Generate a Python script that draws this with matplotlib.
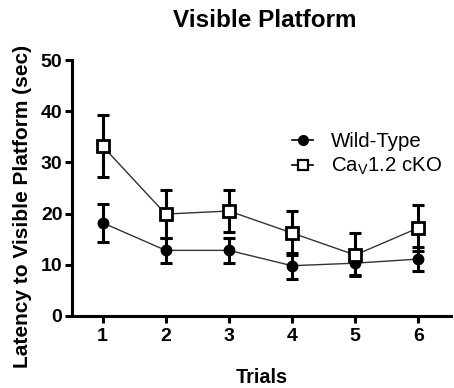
import matplotlib
matplotlib.use("Agg")
import matplotlib.pyplot as plt

plt.rcParams['font.family'] = ['Liberation Sans', 'DejaVu Sans']
plt.rcParams['mathtext.fontset'] = 'custom'
plt.rcParams['mathtext.rm'] = 'Liberation Sans'

trials = [1, 2, 3, 4, 5, 6]
wt_mean = [18.2, 12.8, 12.8, 9.8, 10.3, 11.1]
wt_err = [3.7, 2.4, 2.5, 2.5, 2.3, 2.3]
ko_mean = [33.2, 19.9, 20.5, 16.2, 11.9, 17.2]
ko_err = [6.1, 4.7, 4.2, 4.3, 4.2, 4.5]
yticks = [0, 10, 20, 30, 40, 50]

fig = plt.figure(figsize=(4.54, 3.88), dpi=100)
ax = fig.add_axes([0.159, 0.186, 0.835, 0.659])

ax.errorbar(trials, ko_mean, yerr=ko_err, fmt='none', ecolor='black',
            elinewidth=2.2, capsize=4.3, capthick=2.2, zorder=2)
ax.errorbar(trials, wt_mean, yerr=wt_err, fmt='none', ecolor='black',
            elinewidth=2.2, capsize=4.3, capthick=2.2, zorder=2)
ax.plot(trials, wt_mean, color='#333333', lw=1.0, zorder=3)
ax.plot(trials, ko_mean, color='#333333', lw=1.0, zorder=3)
ax.plot(trials, wt_mean, 'o', color='black', ms=7.5, zorder=4)
ax.plot(trials, ko_mean, 's', mfc='white', mec='black', mew=2, ms=8, zorder=4)

h1, = ax.plot([], [], '-o', color='black', ms=7, lw=1.2)
h2, = ax.plot([], [], '-s', color='black', mfc='white', mew=1.6, ms=7, lw=1.2)
leg = ax.legend([h1, h2], ['Wild-Type', r'Ca$_{\mathregular{V}}$1.2 cKO'],
                loc='center left', bbox_to_anchor=(0.58, 0.63), frameon=False,
                fontsize=14.7, handlelength=1.05, handletextpad=0.85,
                labelspacing=0.25, borderaxespad=0, borderpad=0)

ax.set_xlim(0.52, 6.52)
ax.set_ylim(0, 50)
ax.set_yticks(yticks)
ax.set_xticks(trials)
for s in ['top', 'right']:
    ax.spines[s].set_visible(False)
for s in ['left', 'bottom']:
    ax.spines[s].set_linewidth(2.2)
ax.tick_params(width=2.2, length=5, labelsize=14)
ax.tick_params(axis='x', pad=4)
ax.tick_params(axis='y', pad=2)
for lbl in ax.get_xticklabels() + ax.get_yticklabels():
    lbl.set_fontweight('bold')

ax.set_xlabel('Trials', fontsize=14.3, fontweight='bold')
ax.xaxis.set_label_coords(0.5, -0.205)
ax.set_ylabel('Latency to Visible Platform (sec)', fontsize=15, fontweight='bold')
ax.yaxis.set_label_coords(-0.106, 0.426)
fig.text(0.584, 0.948, 'Visible Platform', ha='center', va='center',
         fontsize=17.5, fontweight='bold')

fig.savefig('out.png', dpi=100)
